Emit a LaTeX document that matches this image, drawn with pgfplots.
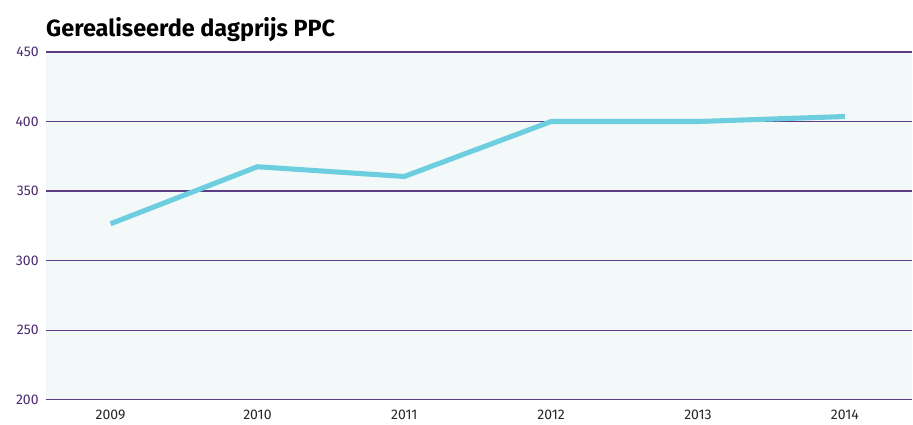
\documentclass[border=0pt]{standalone}
\usepackage{fontspec}
\setmainfont{Fira Sans}
\usepackage{pgfplots}
\pgfplotsset{compat=1.18}
\definecolor{gridpurple}{HTML}{5E3D84}
\definecolor{labpurple}{HTML}{4A2A6E}
\definecolor{bgcol}{HTML}{F3F9F9}
\definecolor{linecol}{HTML}{6CCEDF}
\begin{document}
\begin{tikzpicture}
\begin{axis}[
    name=ax,
    scale only axis,
    width=650.25pt, height=261pt,
    xmin=2008.56, xmax=2014.46,
    ymin=200, ymax=450,
    ytick={200,250,300,350,400,450},
    yticklabels={200,250,300,350,400,450},
    xtick={2009,2010,2011,2012,2013,2014},
    xticklabels={2009,2010,2011,2012,2013,2014},
    axis line style={draw=none},
    major tick length=0pt,
    ymajorgrids=true,
    grid style={gridpurple, line width=0.9pt},
    axis background/.style={fill=bgcol},
    yticklabel style={font=\fontsize{10.5}{12}\selectfont, text=labpurple, xshift=-2pt},
    xticklabel style={font=\fontsize{10.5}{12}\selectfont, text=black!85, yshift=-4pt},
    clip=false,
]
\addplot[linecol, line width=3.8pt] coordinates {
    (2009,326.5) (2010,367.5) (2011,360.5) (2012,400) (2013,400) (2014,403.6)
};
\end{axis}
\node[anchor=base west, inner sep=0pt, font=\fontsize{17.6}{20}\selectfont\bfseries] at ([yshift=11.25pt]ax.north west) {Gerealiseerde dagprijs PPC};
\path (ax.south west) ++(-34.5pt,-18pt) coordinate (bl);
\path (ax.north east) ++(0,39pt) coordinate (tr);
\path (bl) rectangle (tr);
\end{tikzpicture}
\end{document}
